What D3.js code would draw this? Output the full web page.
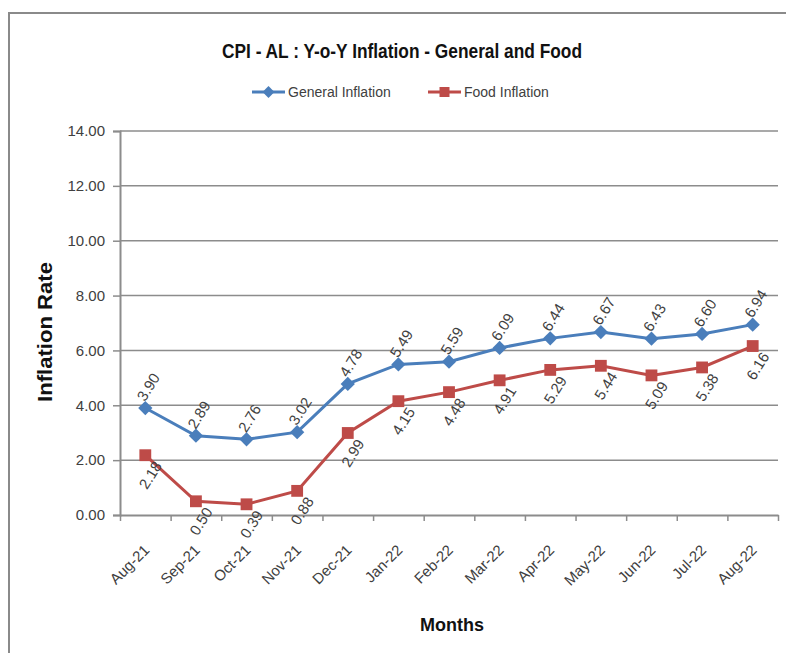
<!DOCTYPE html>
<html>
<head>
<meta charset="utf-8">
<script src="https://cdn.jsdelivr.net/npm/d3@7"></script>
<style>
  body { margin: 0; background: #fff; }
  svg { display: block; font-family: "Liberation Sans", Arial, sans-serif; }
</style>
</head>
<body>
<div id="chart"></div>
<script>
// values
var months = ["Aug-21","Sep-21","Oct-21","Nov-21","Dec-21","Jan-22","Feb-22","Mar-22","Apr-22","May-22","Jun-22","Jul-22","Aug-22"];
var generalInflation = [3.90, 2.89, 2.76, 3.02, 4.78, 5.49, 5.59, 6.09, 6.44, 6.67, 6.43, 6.60, 6.94];
var foodInflation = [2.18, 0.50, 0.39, 0.88, 2.99, 4.15, 4.48, 4.91, 5.29, 5.44, 5.09, 5.38, 6.16];
var yTicks = [0, 2, 4, 6, 8, 10, 12, 14];

var W = 786, H = 653;
var mLeft = 120, mRight = 778, mTop = 131, mBottom = 515;
var blue = "#4a7ebb", red = "#be4b48", grid = "#8c8c8c", ink = "#404040";
var diamond = d3.symbolDiamond2 || d3.symbolDiamond;

var svg = d3.select("#chart").append("svg").attr("width", W).attr("height", H);

// outer chart border
svg.append("rect").attr("x", 9).attr("y", 13).attr("width", 800).attr("height", 700)
  .attr("fill", "none").attr("stroke", "#8a8a8a").attr("stroke-width", 2);

var x = d3.scaleBand().domain(months).range([mLeft, mRight]).padding(0);
var y = d3.scaleLinear().domain([0, 14]).range([mBottom, mTop]);
function cx(i) { return x(months[i]) + x.bandwidth() / 2; }

// gridlines
svg.append("g").selectAll("line").data(yTicks.filter(function(d){ return d > 0; }))
  .enter().append("line")
  .attr("x1", mLeft).attr("x2", mRight)
  .attr("y1", function(d){ return y(d); }).attr("y2", function(d){ return y(d); })
  .attr("stroke", grid).attr("stroke-width", 1.5);

// y axis
var yAxis = svg.append("g").attr("transform", "translate(" + mLeft + ",0)")
  .call(d3.axisLeft(y).tickValues(yTicks).tickFormat(d3.format(".2f")).tickSize(7).tickPadding(8));
yAxis.select(".domain").attr("stroke", grid).attr("stroke-width", 2);
yAxis.selectAll(".tick line").attr("stroke", grid).attr("stroke-width", 1.5);
yAxis.selectAll(".tick text").attr("font-family", "Liberation Sans, Arial, sans-serif")
  .attr("font-size", 15).attr("fill", ink);

// x axis (ticks at category boundaries)
var xb = d3.scaleLinear().domain([0, months.length]).range([mLeft, mRight]);
var xAxis = svg.append("g").attr("transform", "translate(0," + mBottom + ")")
  .call(d3.axisBottom(xb).tickValues(d3.range(months.length + 1)).tickFormat("").tickSize(6).tickSizeOuter(0));
xAxis.select(".domain").attr("stroke", grid).attr("stroke-width", 2);
xAxis.selectAll(".tick line").attr("stroke", grid).attr("stroke-width", 1.5);

svg.append("g").selectAll("text").data(months).enter().append("text")
  .attr("transform", function(d, i){ return "translate(" + (cx(i) + 5) + "," + (mBottom + 36) + ") rotate(-45)"; })
  .attr("text-anchor", "end")
  .attr("font-size", 15).attr("fill", ink)
  .text(function(d){ return d; });

// lines
var line = d3.line()
  .x(function(d, i){ return cx(i); })
  .y(function(d){ return y(d); });

function series(vals, color, marker, above) {
  var g = svg.append("g");
  g.append("path").datum(vals).attr("d", line)
    .attr("fill", "none").attr("stroke", color).attr("stroke-width", 3);
  g.selectAll("path.m").data(vals).enter().append("path").attr("class", "m")
    .attr("transform", function(d, i){ return "translate(" + cx(i) + "," + y(d) + ")"; })
    .attr("d", d3.symbol().type(marker).size(marker === d3.symbolSquare ? 140 : 130))
    .attr("fill", color);
  g.selectAll("text").data(vals).enter().append("text")
    .attr("transform", function(d, i){
      var tx = cx(i) + (above ? 3 : 5);
      var ty = y(d) + (above ? -21 : 20);
      return "translate(" + tx + "," + ty + ") rotate(-58)";
    })
    .attr("text-anchor", "middle").attr("dy", "0.35em")
    .attr("font-size", 15).attr("fill", ink)
    .text(function(d){ return d.toFixed(2); });
}
series(generalInflation, blue, diamond, true);
series(foodInflation, red, d3.symbolSquare, false);

// title
svg.append("text").attr("x", 222).attr("y", 58)
  .attr("font-size", 20).attr("font-weight", "bold").attr("fill", "#111")
  .attr("textLength", 360).attr("lengthAdjust", "spacingAndGlyphs")
  .text("CPI - AL : Y-o-Y Inflation - General and Food");

// legend
var legend = [{name: "General Inflation", color: blue, marker: diamond, x: 252},
              {name: "Food Inflation", color: red, marker: d3.symbolSquare, x: 428}];
var lg = svg.append("g").selectAll("g").data(legend).enter().append("g")
  .attr("transform", function(d){ return "translate(" + d.x + ",92)"; });
lg.append("line").attr("x1", 0).attr("x2", 33).attr("stroke", function(d){ return d.color; }).attr("stroke-width", 3);
lg.append("path").attr("transform", "translate(16.5,0)")
  .attr("d", function(d){ return d3.symbol().type(d.marker).size(d.marker === d3.symbolSquare ? 100 : 90)(); })
  .attr("fill", function(d){ return d.color; });
lg.append("text").attr("x", 36).attr("y", 5)
  .attr("font-size", 14).attr("fill", ink).text(function(d){ return d.name; });

// axis titles
svg.append("text").attr("transform", "translate(52,402) rotate(-90)")
  .attr("font-size", 20).attr("font-weight", "bold").attr("fill", "#111")
  .attr("textLength", 140).attr("lengthAdjust", "spacingAndGlyphs")
  .text("Inflation Rate");
svg.append("text").attr("x", 452).attr("y", 631)
  .attr("text-anchor", "middle").attr("font-size", 18).attr("font-weight", "bold").attr("fill", "#111")
  .text("Months");
</script>
</body>
</html>
